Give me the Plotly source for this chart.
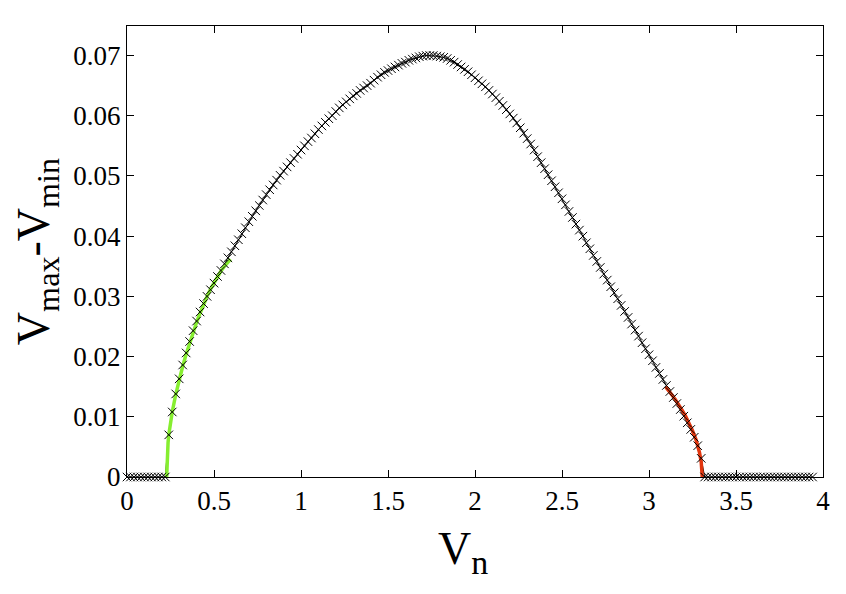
import plotly.graph_objects as go

# Sampled V_n values (step 0.02) and measured V_max - V_min
vn = [round(0.02 * i, 2) for i in range(0, 198)]

amp_left_zero = [0.0] * 12  # 0.00 .. 0.22
amp_curve = [
    # 0.24 .. 0.58
    0.0070, 0.0108, 0.0138, 0.0163, 0.0186, 0.0206, 0.0225, 0.0243, 0.0259,
    0.0274, 0.0288, 0.0300, 0.0311, 0.0322, 0.0333, 0.0343, 0.0354, 0.0364,
    # 0.60 .. 0.98
    0.0374, 0.0384, 0.0394, 0.0404, 0.0414, 0.0424, 0.0433, 0.0442, 0.0451,
    0.0460, 0.0469, 0.0477, 0.0485, 0.0493, 0.0501, 0.0508, 0.0515, 0.0522,
    0.0529, 0.0536,
    # 1.00 .. 1.38
    0.0543, 0.0550, 0.0557, 0.0563, 0.0570, 0.0577, 0.0583, 0.0589, 0.0595,
    0.0600, 0.0607, 0.0613, 0.0618, 0.0623, 0.0628, 0.0633, 0.0637, 0.0642,
    0.0646, 0.0650,
    # 1.40 .. 1.78
    0.0654, 0.0659, 0.0664, 0.0668, 0.0672, 0.0675, 0.0678, 0.0681, 0.0684,
    0.0687, 0.0689, 0.0692, 0.0694, 0.0696, 0.0698, 0.0699, 0.0700, 0.0700,
    0.0700, 0.0699,
    # 1.80 .. 2.18
    0.0698, 0.0697, 0.0695, 0.0692, 0.0689, 0.0685, 0.0681, 0.0677, 0.0673,
    0.0668, 0.0663, 0.0658, 0.0653, 0.0648, 0.0642, 0.0636, 0.0630, 0.0624,
    0.0617, 0.0610,
    # 2.20 .. 2.58
    0.0603, 0.0596, 0.0588, 0.0580, 0.0571, 0.0562, 0.0553, 0.0543, 0.0532,
    0.0522, 0.0512, 0.0502, 0.0492, 0.0482, 0.0472, 0.0462, 0.0452, 0.0441,
    0.0431, 0.0420,
    # 2.60 .. 2.98
    0.0410, 0.0400, 0.0389, 0.0379, 0.0368, 0.0358, 0.0348, 0.0337, 0.0327,
    0.0316, 0.0306, 0.0296, 0.0285, 0.0275, 0.0265, 0.0254, 0.0244, 0.0234,
    0.0223, 0.0213,
    # 3.00 .. 3.30
    0.0203, 0.0193, 0.0182, 0.0172, 0.0162, 0.0152, 0.0142, 0.0132, 0.0122,
    0.0112, 0.0101, 0.0090, 0.0079, 0.0066, 0.0052, 0.0031,
]
amp_right_zero = [0.0] * 32  # 3.32 .. 3.94
amp = amp_left_zero + amp_curve + amp_right_zero

# Green fit near the lower onset
fit_low_x = [0.228, 0.229, 0.232, 0.236, 0.24, 0.25, 0.26, 0.28, 0.30, 0.32,
             0.34, 0.36, 0.38, 0.40, 0.42, 0.44, 0.46, 0.48, 0.50, 0.52,
             0.54, 0.56, 0.58, 0.595]
fit_low_y = [0.0, 0.0017, 0.0040, 0.0057, 0.0070, 0.0090, 0.0108, 0.0137,
             0.0162, 0.0184, 0.0204, 0.0223, 0.0241, 0.0257, 0.0272, 0.0287,
             0.0300, 0.0312, 0.0323, 0.0333, 0.0342, 0.0350, 0.0357, 0.0362]

# Red fit near the upper onset
fit_high_x = [3.095, 3.11, 3.13, 3.15, 3.17, 3.19, 3.21, 3.23, 3.25, 3.27,
              3.28, 3.29, 3.30, 3.304, 3.306]
fit_high_y = [0.0150, 0.0145, 0.0137, 0.0129, 0.0121, 0.0111, 0.0101,
              0.0090, 0.0077, 0.0062, 0.0053, 0.0041, 0.0025, 0.0015, 0.0]

x_ticks = [0, 0.5, 1, 1.5, 2, 2.5, 3, 3.5, 4]
y_ticks = [0, 0.01, 0.02, 0.03, 0.04, 0.05, 0.06, 0.07]

FONT = "Liberation Serif"

fig = go.Figure()
fig.add_trace(go.Scatter(x=vn, y=amp, mode="lines",
                         line=dict(color="black", width=1),
                         cliponaxis=False, showlegend=False))
fig.add_trace(go.Scatter(x=fit_low_x, y=fit_low_y, mode="lines",
                         line=dict(color="#86ee30", width=3.5),
                         cliponaxis=False, showlegend=False))
fig.add_trace(go.Scatter(x=fit_high_x, y=fit_high_y, mode="lines",
                         line=dict(color="#e2360e", width=3.5),
                         cliponaxis=False, showlegend=False))
fig.add_trace(go.Scatter(x=vn, y=amp, mode="markers",
                         marker=dict(symbol="x-thin", size=8.5,
                                     line=dict(color="black", width=1)),
                         cliponaxis=False, showlegend=False))

fig.update_layout(
    width=846, height=594,
    margin=dict(l=119, r=31, t=18, b=125),
    paper_bgcolor="white", plot_bgcolor="white",
    font=dict(family=FONT, color="black", size=27),
    annotations=[dict(
        text="V<sub><span style='font-size:34px'>n</span></sub>",
        xref="paper", yref="paper", x=0.483, y=-0.097,
        xanchor="center", yanchor="top", showarrow=False,
        font=dict(family=FONT, size=46, color="black"),
    )],
)
fig.update_xaxes(
    range=[0, 4], tickvals=x_ticks, ticks="inside", ticklen=7,
    tickcolor="black", showline=True, linecolor="black", linewidth=1,
    mirror="ticks", showgrid=False, zeroline=False, automargin=False,
    tickfont=dict(family=FONT, size=27),
)
fig.update_yaxes(
    range=[0, 0.0749], tickvals=y_ticks, ticks="inside", ticklen=7,
    tickcolor="black", showline=True, linecolor="black", linewidth=1,
    mirror="ticks", showgrid=False, zeroline=False, automargin=False,
    tickfont=dict(family=FONT, size=27),
    title=dict(text="V<sub>max</sub>-V<sub>min</sub>",
               font=dict(family=FONT, size=46), standoff=22),
)

fig.write_html("out.html")
